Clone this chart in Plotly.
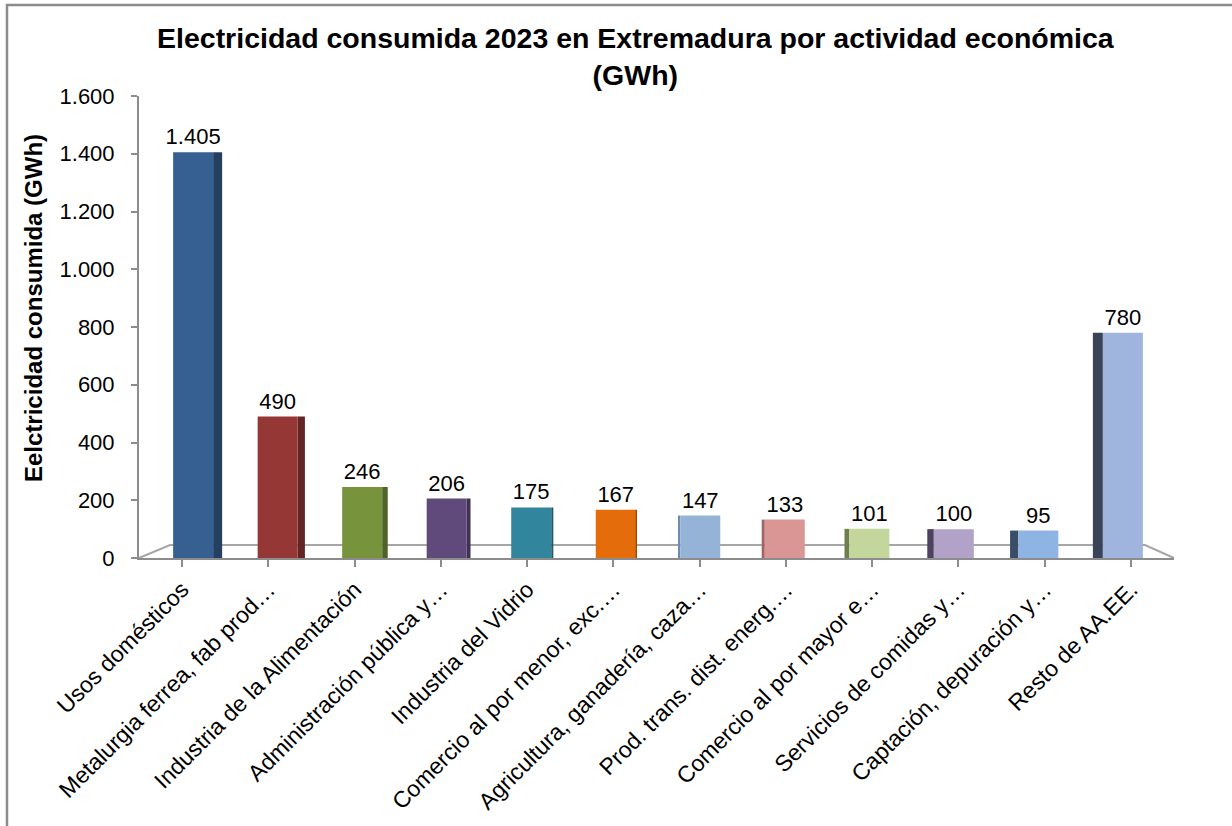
import plotly.graph_objects as go

# ---- data ----
categories = [
    "Usos domésticos",
    "Metalurgia ferrea, fab prod…",
    "Industria de la Alimentación",
    "Administración pública y…",
    "Industria del Vidrio",
    "Comercio al por menor, exc.…",
    "Agricultura, ganadería, caza…",
    "Prod. trans. dist. energ.…",
    "Comercio al por mayor e…",
    "Servicios de comidas y…",
    "Captación, depuración y…",
    "Resto de AA.EE.",
]
values = [1405, 490, 246, 206, 175, 167, 147, 133, 101, 100, 95, 780]
title_text = "Electricidad consumida 2023 en Extremadura por actividad económica<br>(GWh)"
y_title = "Eelctricidad consumida (GWh)"
y_ticks = [0, 200, 400, 600, 800, 1000, 1200, 1400, 1600]

# ---- style ----
front_colors = ["#376092", "#953735", "#77933C", "#604A7B", "#31859C", "#E46C0A",
                "#95B3D7", "#D99694", "#C3D69B", "#B3A2C7", "#8EB4E3", "#A0B5DD"]
side_colors = ["#243F60", "#632523", "#4F6228", "#3F3151", "#215968", "#984807",
               "#6F8CB0", "#A06664", "#6E7E4E", "#4D4260", "#3A4D66", "#3A4357"]

n = len(categories)
x = list(range(n))
PX = 1035 / n            # pixels per category
FRONT_W = 40 / PX        # front face width (category units)
front_off, side_off, side_w = [], [], []
for i in range(n):
    shift = (11 - 19 * i / (n - 1)) / PX          # perspective shift of front face
    fo = shift - FRONT_W / 2
    front_off.append(fo)
    sw = (9 - 19 * i / (n - 1)) / PX              # side face width (+ right, - left)
    if sw >= 0:
        side_off.append(fo + FRONT_W)
        side_w.append(max(sw, 0.0001))
    else:
        side_off.append(fo + sw)
        side_w.append(-sw)

fig = go.Figure()
fig.add_trace(go.Bar(
    x=x, y=values, offset=side_off, width=side_w,
    marker=dict(color=side_colors, line=dict(width=0)),
    hoverinfo="skip", showlegend=False,
))
fig.add_trace(go.Bar(
    x=x, y=values, offset=front_off, width=[FRONT_W] * n,
    marker=dict(color=front_colors, line=dict(width=0)),
    text=values, texttemplate="%{y:,d}", textposition="outside",
    constraintext="none", cliponaxis=False,
    textfont=dict(family="Liberation Sans, Arial", size=22, color="#000000"),
    showlegend=False,
))

axis_gray = "#8C8C8C"
fig.update_layout(
    width=1232, height=826,
    margin=dict(l=139, r=58, t=96, b=268, autoexpand=False),
    paper_bgcolor="white", plot_bgcolor="white",
    barmode="overlay",
    separators=",.",
    font=dict(family="Liberation Sans, Arial", color="#000000"),
    xaxis=dict(
        tickmode="array", tickvals=x, ticktext=categories,
        range=[-0.5, n - 0.5],
        tickangle=-45, automargin=False,
        tickfont=dict(size=23, color="#000000"),
        showline=True, linecolor=axis_gray, linewidth=2,
        ticks="outside", tickson="boundaries", ticklen=7, tickcolor=axis_gray, tickwidth=2,
        showgrid=False, zeroline=False,
    ),
    yaxis=dict(
        range=[0, 1600], tickvals=y_ticks, automargin=False,
        tickformat=",d",
        tickfont=dict(size=22, color="#000000"),
        showline=True, linecolor=axis_gray, linewidth=2,
        ticks="outside", ticklen=6, tickcolor=axis_gray, tickwidth=2,
        ticklabelstandoff=12,
        showgrid=False, zeroline=False,
    ),
    annotations=[
        dict(
            text="<b>" + title_text + "</b>",
            xref="paper", yref="paper", x=(636 - 139) / 1035, y=(558 - 57) / 462,
            showarrow=False, xanchor="center", yanchor="middle", align="center",
            font=dict(family="Liberation Sans, Arial", size=28.5, color="#000000"),
        ),
        dict(
            text="<b>" + y_title + "</b>",
            xref="paper", yref="paper", x=(33 - 139) / 1035, y=(558 - 308) / 462,
            textangle=-90, showarrow=False, xanchor="center", yanchor="middle",
            font=dict(family="Liberation Sans, Arial", size=24, color="#000000"),
        ),
    ],
    shapes=[
        # floor outline
        dict(type="path", xref="paper", yref="paper", layer="below",
             path="M 0,0 L 0.030,0.028 L 0.972,0.028 L 1,0",
             line=dict(color="#A6A6A6", width=2)),
        # chart frame
        dict(type="rect", xref="paper", yref="paper", layer="above",
             x0=(7 - 139) / 1035, x1=(1240 - 139) / 1035,
             y0=(558 - 840) / 462, y1=(558 - 5) / 462,
             line=dict(color="#8C8C8C", width=2.5), fillcolor="rgba(0,0,0,0)"),
    ],
)

fig.write_html("out.html")
